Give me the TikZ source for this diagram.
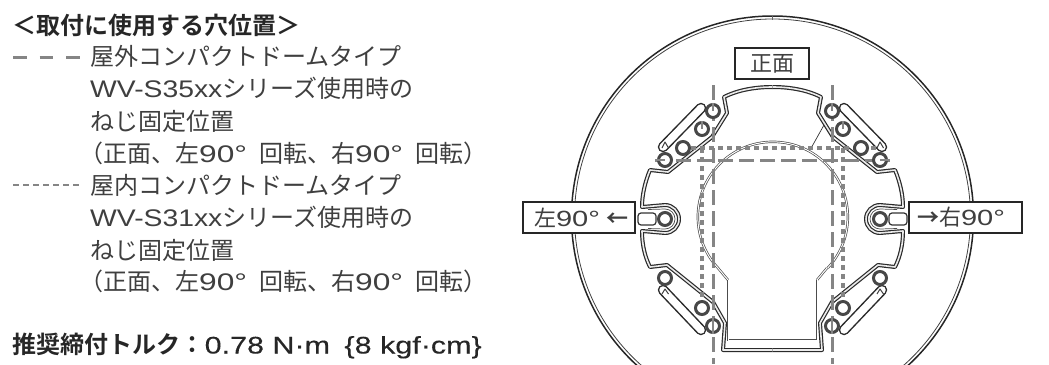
\documentclass[tikz,border=0pt]{standalone}
\usepackage{fontspec}
\setmainfont{Noto Sans CJK JP}[BoldFont={Noto Sans CJK JP Bold}]
\newfontfamily\lat[FakeStretch=1.18]{Liberation Sans}
\newfontfamily\latd[FakeStretch=1.32]{Liberation Sans}
\newfontfamily\latm[FakeStretch=1.27,FakeBold=.2]{Liberation Sans}
\newcommand{\ninety}{\makebox[60pt][l]{\latd 90°}}
\definecolor{ink}{HTML}{3F3F3F}
\definecolor{dashc}{HTML}{858585}
\definecolor{linec}{HTML}{2A2A2A}
\tikzset{
  txt/.style={anchor=base west,inner sep=0pt,text=ink,font=\fontsize{24}{26}\selectfont},
  head/.style={txt,text=black!85,font=\fontsize{24}{26}\selectfont\bfseries},
  labelbox/.style={draw=black!85,line width=1.4pt,fill=white,inner sep=0pt,text=ink,font=\fontsize{22}{24}\selectfont},
  hole/.style={circle,draw=black!72,line width=3pt,fill=white,inner sep=0pt,minimum size=13pt},
  longd/.style={draw=dashc,line width=3pt,dash pattern=on 15pt off 6pt},
  shortd/.style={draw=dashc,line width=3.1pt,dash pattern=on 5pt off 4pt},
  legdash/.style={draw=dashc,line width=3pt,dash pattern=on 13.5pt off 13pt},
  legdot/.style={draw=dashc,line width=2.5pt,dash pattern=on 6pt off 4pt},
  outl/.style={draw=linec,line width=1.2pt,double=white!60!black!20,double distance=1.6pt,line join=round},
  thindouble/.style={draw=black!70,line width=.7pt,double=white,double distance=1pt},
  slotline/.style={draw=linec,line width=1.5pt,double=white,double distance=7.5pt,line cap=round},
  screwslot/.style={draw=black!80,line width=1.2pt,fill=white,rounded corners=3pt,minimum width=18pt,minimum height=12pt,inner sep=0pt},
}
\newcommand{\halfshape}{%
  \draw[outl] (772.5,87) .. controls (755,87) and (738,90) .. (724,97) -- (727,113) -- (712,137) -- (668,172) -- (650,170)
     .. controls (645,182) and (642,195) .. (642,207) -- (665,205) arc[start angle=270,end angle=450,radius=14] -- (642,231)
     .. controls (642,245) and (645,257) .. (650,267) -- (667,265) -- (713,302) -- (725,323) -- (723,350) -- (772.5,350);
  \draw[draw=black!70,line width=.7pt] (648,209.5) -- (665,209) arc[start angle=270,end angle=450,radius=10] -- (648,228.5);
  \draw[thindouble] (728,280) -- (728,340) -- (772.5,340);
}
\begin{document}
\begin{tikzpicture}[x=1pt,y=-1pt]
\useasboundingbox (0,0) rectangle (1049,364);
% heading and legend
\node[head] (title) at (12,34.5) {＜取付に使用する穴位置＞};
\node[txt] (t1) at (90,65.5) {屋外コンパクトドームタイプ};
\node[txt] (t2) at (90,97) {{\lat WV-S35xx}シリーズ使用時の};
\node[txt] (t3) at (90,130) {ねじ固定位置};
\node[txt] (t4) at (79,162) {（正面、左\ninety 回転、右\ninety 回転）};
\node[txt] (t5) at (90,194) {屋内コンパクトドームタイプ};
\node[txt] (t6) at (90,226.5) {{\lat WV-S31xx}シリーズ使用時の};
\node[txt] (t7) at (90,259) {ねじ固定位置};
\node[txt] (t8) at (79,290.5) {（正面、左\ninety 回転、右\ninety 回転）};
\node[head] (t9) at (12.5,353.5) {推奨締付トルク：{\mdseries\latm 0.78 N·m\hspace{6pt} \{8 kgf·cm\}}};
\coordinate (la) at (13,57); \coordinate (lb) at (81,57);
\coordinate (lc) at (13,185); \coordinate (ld) at (81,185);
\draw[legdash] (la) -- (lb);
\draw[legdot] (lc) -- (ld);
% drawing
\begin{scope}
\clip (0,0) rectangle (1049,364);
\draw[black!85,line width=1.5pt] (772.5,217) circle[radius=201];
\draw[black!75,line width=.8pt] (772.5,217) circle[radius=198];
\draw[black!60,line width=.6pt] (772.5,16) -- (772.5,20);
\draw[thindouble] (718,268) arc[start angle=137,end angle=403,radius=75];
\draw[thindouble] (718,268) -- (728,280);
\draw[thindouble] (827,268) -- (817,280);
\halfshape
\begin{scope}[xscale=-1,xshift=-1545pt]
\halfshape
\end{scope}
\draw[black!80,line width=.7pt] (824,125) -- (810,150);
% slots
\draw[slotline] (701,108) -- (663,147);
\draw[slotline] (844,108) -- (882,147);
\draw[slotline] (701,330) -- (663,290);
\draw[slotline] (844,330) -- (882,290);
\foreach \x/\y/\ly in {665/142/148,880/142/148,665/289/294,880/289/294}{
  \draw[black!75,line width=1pt,line join=round] (\x-3,\ly) -- (\x,\y) -- (\x+3.5,\ly);
}
% dashed guides
\draw[longd] (713,85) -- (713,364);
\draw[longd] (832,85) -- (832,364);
\draw[shortd] (702,148) -- (702,313);
\draw[shortd] (843,148) -- (843,313);
\draw[longd] (655,160) -- (890,160);
\draw[shortd] (682,148) -- (876,148);
% holes
\foreach \n/\x/\y in {a/713/111,b/702/129,c/683/148,d/665/160,
   e/832/111,f/843/129,g/861/148,h/880/160,
   i/665/278,j/702/308,k/713/326,
   l/880/278,m/843/308,n/832/326,o/665/219,p/880/219}{
  \node[hole] (h\n) at (\x,\y) {};
}
\draw[draw=dashc,line width=2pt] (ha.north) -- (ha.center);
\draw[draw=dashc,line width=2pt] (he.north) -- (he.center);
\draw[draw=dashc,line width=2pt] (hb.north) -- (hb.center);
\draw[draw=dashc,line width=2pt] (hf.north) -- (hf.center);
\draw[draw=dashc,line width=2pt] (hd.west) -- (hd.center);
\draw[draw=dashc,line width=2pt] (hh.east) -- (hh.center);
\draw[draw=dashc,line width=2pt] (hk.north) -- (hk.south);
\draw[draw=dashc,line width=2pt] (hn.north) -- (hn.south);
\node[screwslot] (sl) at (647,219) {};
\node[screwslot] (sr) at (898,219) {};
\node[labelbox,minimum width=74pt,minimum height=31pt] (front) at (772,63.5) {正面};
\node[labelbox,minimum width=112pt,minimum height=31pt] (left) at (579,217.5) {\hspace*{5pt}左{\latd 90°}\hspace{7pt}{\bfseries ←}};
\node[labelbox,minimum width=113pt,minimum height=31pt] (right) at (965.5,217.5) {{\bfseries →}右{\latd 90°}\hspace*{9pt}};
\end{scope}
\end{tikzpicture}
\end{document}
